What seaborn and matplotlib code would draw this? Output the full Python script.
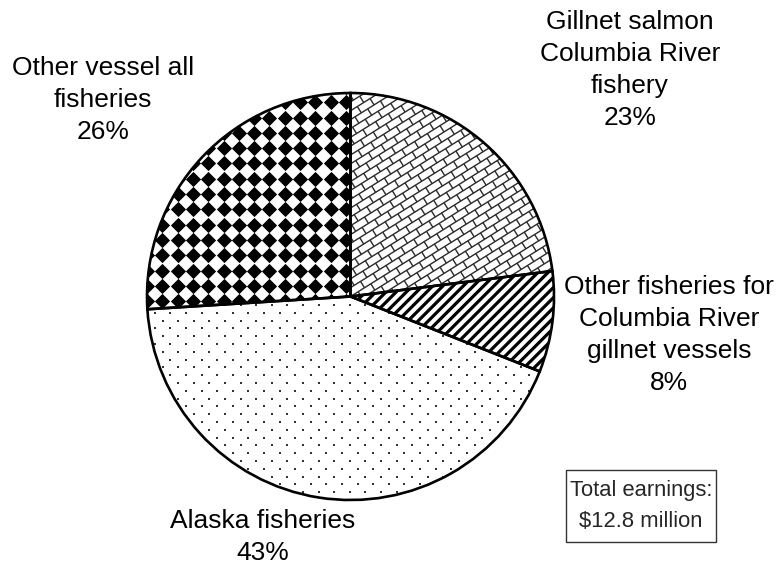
import numpy as np
import matplotlib
matplotlib.use("Agg")
import matplotlib.pyplot as plt
from matplotlib.collections import LineCollection
from matplotlib.patches import Rectangle
import seaborn as sns

# Earnings shares of Columbia River gillnet vessels by fishery
categories = [
    "Gillnet salmon\nColumbia River\nfishery",
    "Other fisheries for\nColumbia River\ngillnet vessels",
    "Alaska fisheries",
    "Other vessel all\nfisheries",
]
shares = [23, 8, 43, 26]
total_label = "Total earnings:\n$12.8 million"

sns.set_theme(style="white")
plt.rcParams["font.family"] = ["Liberation Sans", "DejaVu Sans"]

W, H = 776, 565
fig = plt.figure(figsize=(W / 100, H / 100), dpi=100)
ax = fig.add_axes([0, 0, 1, 1])

cx, cy, R = 350.5, H - 296.5, 203.5
wedges, _ = ax.pie(
    shares, startangle=90, counterclock=False, center=(cx, cy), radius=R,
    colors=["white"] * len(shares),
    wedgeprops=dict(edgecolor="black", linewidth=1.9),
)
ax.set_xlim(0, W)
ax.set_ylim(0, H)
ax.set_aspect("equal")
ax.axis("off")


def rotated_frame(theta_deg):
    t = np.deg2rad(theta_deg)
    return np.cos(t), np.sin(t)


def to_xy(u, v, c, s):
    return cx + u * c - v * s, cy + u * s + v * c


# Diagonal brick texture for the gillnet salmon slice
c, s = rotated_frame(32)
h, L = 7.5, 15.0
segs = []
ks = np.arange(-int(R / h) - 2, int(R / h) + 3)
for k in ks:
    v0 = k * h
    segs.append([to_xy(-R - 20, v0, c, s), to_xy(R + 20, v0, c, s)])
    off = (k % 2) * L / 2
    for u in np.arange(-R - 20 + off, R + 20, L):
        segs.append([to_xy(u, v0, c, s), to_xy(u, v0 + h, c, s)])
brick = LineCollection(segs, colors="#2a2a2a", linewidths=1.0, zorder=2)
ax.add_collection(brick)
brick.set_clip_path(wedges[0])

# Bold diagonal stripes for other fisheries of gillnet vessels
c, s = rotated_frame(45)
gap = 7.2
segs = [[to_xy(-R - 20, v, c, s), to_xy(R + 20, v, c, s)]
        for v in np.arange(-R - 20, R + 20, gap)]
stripes = LineCollection(segs, colors="black", linewidths=2.3, zorder=2)
ax.add_collection(stripes)
stripes.set_clip_path(wedges[1])

# Staggered dot texture for Alaska fisheries
dx, dy = 15.6, 7.8
pts = []
for j, y in enumerate(np.arange(cy - R - dy, cy + R + dy, dy)):
    off = (j % 2) * dx / 2
    for x in np.arange(cx - R - dx + off, cx + R + dx, dx):
        pts.append((x, y))
pts = np.array(pts)
dots = ax.scatter(pts[:, 0], pts[:, 1], s=2.2, marker="s", color="#333333",
                  linewidths=0, zorder=2)
dots.set_clip_path(wedges[2])

# Diamond grid texture for other vessel fisheries
step = 15.3
gx = np.arange(cx - R - step, cx + R + step, step)
gy = np.arange(cy - R - step, cy + R + step, step)
GX, GY = np.meshgrid(gx, gy)
diam = ax.scatter(GX.ravel(), GY.ravel(), s=60, marker="D", color="black",
                  linewidths=0, zorder=2)
diam.set_clip_path(wedges[3])

for w in wedges:
    w.set_zorder(3)
    w.set_facecolor("none")

fs = 19
pct = [f"{v}%" for v in shares]
label_pos = [(630, 70), (669, 335), (263, 537), (103, 100)]
for name, p, (x, y) in zip(categories, pct, label_pos):
    ax.text(x, H - y, f"{name}\n{p}", ha="center", va="center",
            fontsize=fs, linespacing=1.43, color="black")

# Total earnings box
ax.add_patch(Rectangle((566, H - 542), 150, 72, facecolor="white",
                       edgecolor="#333333", linewidth=1.0, zorder=4))
ax.text(641, H - 506, total_label, ha="center", va="center", fontsize=15.8,
        linespacing=1.66, zorder=5)

fig.savefig("out.png", dpi=100, facecolor="white")
